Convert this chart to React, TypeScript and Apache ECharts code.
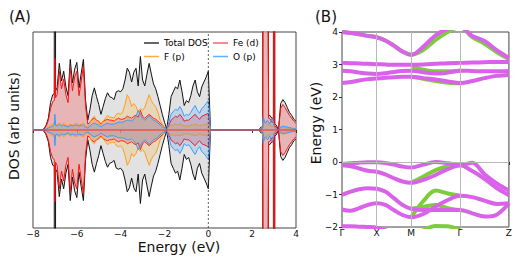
import React, { useEffect, useRef } from 'react';
import * as echarts from 'echarts';

// Energy grid (eV)
const energies = [
  -8.0, -7.9, -7.8, -7.7, -7.6, -7.5, -7.4, -7.3, -7.2, -7.1,
  -7.03, -7.0, -6.97,
  -6.9, -6.8, -6.7, -6.6, -6.5, -6.4, -6.3, -6.2, -6.1,
  -6.0, -5.9, -5.8, -5.7, -5.6, -5.5, -5.4, -5.3, -5.2, -5.1,
  -5.0, -4.9, -4.8, -4.7, -4.6, -4.5, -4.4, -4.3, -4.2, -4.1,
  -4.0, -3.9, -3.8, -3.7, -3.6, -3.5, -3.4, -3.3, -3.2, -3.1,
  -3.0, -2.9, -2.8, -2.7, -2.6, -2.5, -2.4, -2.3, -2.2, -2.1,
  -2.0, -1.9, -1.8, -1.7, -1.6, -1.5, -1.4, -1.3, -1.2, -1.1,
  -1.0, -0.9, -0.8, -0.7, -0.6, -0.5, -0.4, -0.3, -0.2, -0.1,
  0.0, 0.1, 0.2, 0.3, 0.4, 0.5, 0.6, 0.7, 0.8, 0.9,
  1.0, 1.1, 1.2, 1.3, 1.4, 1.5, 1.6, 1.7, 1.8, 1.9,
  2.0, 2.1, 2.2, 2.3, 2.4,
  2.48, 2.5, 2.6, 2.7, 2.75,
  2.8, 2.9, 2.97, 3.0, 3.03,
  3.1, 3.2, 3.3, 3.4, 3.5, 3.6, 3.7, 3.8, 3.9, 4.0,
];

const totalDos = [
  0, 0, 0, 0, 0, 0.1, 0.5, 1.2, 2.8, 3.6,
  3.7, 200, 4.0,
  4.3, 6.8, 5.0, 6.0, 4.4, 3.5, 7.2, 4.8, 6.2,
  6.9, 4.3, 5.8, 7.2, 3.0, 1.0, 2.1, 3.5, 4.3, 3.4,
  2.6, 1.6, 2.4, 3.2, 3.8, 3.4, 3.3, 3.1, 3.9, 4.0,
  3.9, 4.2, 5.1, 6.3, 5.9, 4.9, 5.9, 6.3, 4.5, 7.5,
  5.1, 4.5, 5.7, 6.8, 5.7, 4.7, 4.2, 3.4, 2.5, 1.6,
  0.8, 0.1, 1.6, 3.4, 3.9, 4.4, 4.2, 5.1, 3.9, 2.5,
  3.0, 2.8, 3.5, 4.5, 5.1, 3.9, 3.4, 4.4, 4.9, 5.4,
  6.0, 0, 0, 0, 0, 0, 0, 0, 0, 0,
  0, 0, 0, 0, 0, 0, 0, 0, 0, 0,
  0, 0, 0, 0, 0.3,
  0.3, 30, 30, 30, 1.4,
  1.5, 1.2, 1.2, 200, 0.6,
  0.5, 0, 2.7, 3.1, 2.8, 2.3, 1.8, 1.5, 1.1, 0.9,
];

const feD = [
  0, 0, 0, 0, 0, 0.1, 0.4, 1.0, 2.2, 2.9,
  3.0, 7.3, 3.3,
  3.6, 6.0, 4.2, 5.2, 3.6, 2.8, 6.4, 4.0, 5.4,
  6.0, 3.5, 5.0, 6.5, 2.4, 0.6, 0.8, 1.1, 1.2, 1.0,
  0.9, 0.6, 0.9, 1.0, 1.1, 1.0, 1.0, 0.9, 1.1, 1.2,
  1.1, 1.1, 1.2, 1.4, 1.3, 1.2, 1.4, 1.5, 1.3, 2.0,
  1.4, 1.2, 1.4, 1.6, 1.4, 1.2, 1.1, 0.9, 0.7, 0.5,
  0.3, 0.05, 0.5, 1.0, 1.2, 1.4, 1.3, 1.6, 1.3, 0.9,
  1.0, 1.0, 1.2, 1.4, 1.6, 1.3, 1.1, 1.4, 1.5, 1.6,
  1.7, 0, 0, 0, 0, 0, 0, 0, 0, 0,
  0, 0, 0, 0, 0, 0, 0, 0, 0, 0,
  0, 0, 0, 0, 0.1,
  0.2, 30, 30, 30, 1.2,
  1.2, 0.8, 0.8, 200, 0.4,
  0.3, 0, 2.2, 2.6, 2.3, 1.9, 1.5, 1.2, 0.9, 0.7,
];

const fP = [
  0, 0, 0, 0, 0, 0, 0.1, 0.3, 0.5, 0.6,
  0.7, 0.9, 0.6,
  0.5, 0.7, 0.5, 0.7, 0.5, 0.4, 0.6, 0.5, 0.6,
  0.7, 0.5, 0.6, 0.7, 0.5, 0.3, 0.8, 1.2, 1.4, 1.0,
  0.8, 0.5, 0.9, 1.2, 1.5, 1.3, 1.3, 1.2, 1.6, 1.7,
  1.6, 1.9, 2.6, 3.6, 3.2, 2.4, 2.7, 2.4, 1.8, 2.2,
  2.0, 2.3, 3.0, 3.6, 3.0, 2.6, 2.4, 1.8, 1.0, 0.6,
  0.2, 0.05, 0.3, 0.5, 0.5, 0.6, 0.5, 0.6, 0.5, 0.4,
  0.4, 0.4, 0.5, 0.5, 0.6, 0.5, 0.4, 0.5, 0.5, 0.6,
  0.6, 0, 0, 0, 0, 0, 0, 0, 0, 0,
  0, 0, 0, 0, 0, 0, 0, 0, 0, 0,
  0, 0, 0, 0, 0.2,
  0.3, 0.9, 0.7, 0.6, 0.55,
  0.5, 0.4, 0.35, 0.3, 0.25,
  0.1, 0, 0.2, 0.25, 0.2, 0.2, 0.15, 0.1, 0.1, 0.1,
];

const oP = [
  0, 0, 0, 0, 0, 0, 0.1, 0.2, 0.3, 0.4,
  0.5, 1.6, 0.5,
  0.4, 0.6, 0.4, 0.5, 0.4, 0.3, 0.5, 0.4, 0.5,
  0.5, 0.4, 0.5, 0.5, 0.3, 0.2, 0.4, 0.6, 0.7, 0.6,
  0.5, 0.3, 0.5, 0.6, 0.7, 0.6, 0.6, 0.6, 0.7, 0.8,
  0.8, 0.8, 0.9, 1.0, 1.0, 0.9, 1.1, 1.4, 2.0, 1.6,
  1.2, 1.0, 1.2, 1.5, 1.2, 1.0, 0.9, 0.7, 0.5, 0.3,
  0.2, 0.05, 0.8, 1.6, 1.9, 2.1, 2.0, 2.4, 2.0, 1.4,
  1.6, 1.5, 1.8, 2.2, 2.5, 2.0, 1.7, 2.2, 2.4, 2.7,
  3.0, 0, 0, 0, 0, 0, 0, 0, 0, 0,
  0, 0, 0, 0, 0, 0, 0, 0, 0, 0,
  0, 0, 0, 0, 0.2,
  0.3, 1.3, 0.7, 1.0, 0.8,
  0.6, 1.2, 0.8, 0.4, 0.3,
  0.1, 0, 0.3, 0.4, 0.35, 0.3, 0.25, 0.2, 0.15, 0.1,
];

// Band structure
const kPath = [0, 0.125, 0.25, 0.375, 0.5, 0.625, 0.75, 0.875, 1.0, 1.177, 1.354, 1.53, 1.707, 1.884, 2.061, 2.237, 2.414];
const kSegMG = [1.0, 1.177, 1.354, 1.53, 1.707];
const kTicks = [0, 0.5, 1.0, 1.707, 2.414];
const kLabels = ['Γ', 'X', 'M', 'Γ', 'Z'];

const cb4 = [4.0, 3.97, 3.93, 3.88, 3.84, 3.74, 3.58, 3.4, 3.3, 3.55, 3.9, 4.1, 4.15, 3.88, 3.72, 3.44, 3.2];
const cb3 = [3.05, 3.04, 3.03, 3.02, 3.01, 3.0, 2.99, 2.99, 2.99, 3.0, 3.02, 3.04, 3.05, 3.06, 3.07, 3.08, 3.08];
const cb2 = [2.81, 2.79, 2.75, 2.72, 2.71, 2.73, 2.77, 2.8, 2.81, 2.76, 2.72, 2.75, 2.81, 2.8, 2.79, 2.79, 2.8];
const cb1 = [2.43, 2.46, 2.51, 2.55, 2.57, 2.59, 2.61, 2.62, 2.62, 2.58, 2.54, 2.48, 2.43, 2.49, 2.58, 2.65, 2.68];
const vb1 = [-0.06, -0.04, -0.02, -0.01, -0.01, -0.03, -0.08, -0.14, -0.17, -0.08, 0.0, -0.04, -0.1, -0.02, -0.38, -0.66, -0.88];
const vb2 = [-0.1, -0.13, -0.2, -0.27, -0.3, -0.38, -0.5, -0.6, -0.64, -0.55, -0.4, -0.22, -0.1, -0.28, -0.52, -0.8, -1.02];
const vb3 = [-1.01, -0.91, -0.84, -0.81, -0.82, -0.91, -1.11, -1.32, -1.44, -1.48, -1.48, -1.48, -1.48, -1.58, -1.68, -1.62, -1.27];
const vb4 = [-1.46, -1.5, -1.42, -1.32, -1.27, -1.32, -1.48, -1.63, -1.7, -1.6, -1.37, -1.17, -1.04, -1.08, -1.19, -1.29, -1.27];
const vb5 = [-1.98, -1.98, -1.99, -2.0, -2.02, -2.1, -2.2, -2.3, -2.35, -2.3, -2.2, -2.15, -2.2, -2.3, -2.35, -2.3, -2.25];

const gCb4 = [4.0, 3.97, 3.93, 3.88, 3.84, 3.74, 3.58, 3.4, 3.3, 3.45, 3.76, 4.0, 4.15, 3.84, 3.64, 3.38, 3.16];
const gMG1 = [2.95, 2.84, 2.79, 2.79, 2.81];
const gMG2 = [2.62, 2.56, 2.49, 2.44, 2.42];
const gMG3 = [-0.64, -0.45, -0.25, -0.13, -0.1];
const gMG4 = [-1.7, -1.2, -0.88, -0.97, -1.04];
const gMG5 = [-1.44, -1.38, -1.32, -1.42, -1.48];
const gMG6 = [-2.3, -2.1, -1.97, -1.98, -2.1];

const FONT = 'DejaVu Sans';
const minus = (v: number) => String(v).replace('-', '\u2212');

export default function App() {
  const ref = useRef<HTMLDivElement>(null);
  useEffect(() => {
    const chart = echarts.init(ref.current!, null, { renderer: 'svg' });

    const dosSeries = (name: string, vals: number[], sign: number, line: string, fill: string, z: number) => ({
      type: 'line',
      name,
      xAxisIndex: 0,
      yAxisIndex: 0,
      data: energies.map((e, i) => [e, sign * vals[i]]),
      symbol: 'none',
      silent: true,
      z,
      lineStyle: { color: line, width: 1 },
      itemStyle: { color: line },
      areaStyle: { color: fill },
    });

    const bandSeries = (name: string, ks: number[], vals: number[], color: string, z: number) => ({
      type: 'line',
      name,
      xAxisIndex: 1,
      yAxisIndex: 1,
      data: ks.map((k, i) => [k, vals[i]]),
      symbol: 'none',
      smooth: 0.35,
      silent: true,
      z,
      lineStyle: { color, width: 4 },
      itemStyle: { color },
    });

    const MAG = '#d862e8';
    const GRN = '#7ccc3e';

    const series: any[] = [
      dosSeries('Total DOS', totalDos, 1, '#111', '#d6d6d6', 2),
      dosSeries('Total DOS', totalDos, -1, '#111', '#d6d6d6', 2),
      dosSeries('Fe (d)', feD, 1, '#ff1010', 'rgba(255,0,0,0.28)', 3),
      dosSeries('Fe (d)', feD, -1, '#ff1010', 'rgba(255,0,0,0.28)', 3),
      dosSeries('F (p)', fP, 1, '#ff9d1a', 'rgba(255,160,0,0.25)', 4),
      dosSeries('F (p)', fP, -1, '#ff9d1a', 'rgba(255,160,0,0.25)', 4),
      dosSeries('O (p)', oP, 1, '#3a9cff', 'rgba(30,144,255,0.25)', 5),
      dosSeries('O (p)', oP, -1, '#3a9cff', 'rgba(30,144,255,0.25)', 5),
      {
        type: 'line', name: 'fermi', xAxisIndex: 0, yAxisIndex: 0,
        data: [[0, -10], [0, 10]], symbol: 'none', silent: true, z: 9,
        lineStyle: { color: '#333', width: 0.8, type: [2, 2] },
      },
      {
        type: 'line', name: 'zero', xAxisIndex: 0, yAxisIndex: 0,
        data: [[-8, 0], [4, 0]], symbol: 'none', silent: true, z: 10,
        lineStyle: { color: 'rgba(255,20,20,0.85)', width: 1 },
      },
      {
        type: 'line',
        name: 'bandGrid',
        xAxisIndex: 1,
        yAxisIndex: 1,
        data: [[0, 0]],
        symbol: 'none',
        lineStyle: { width: 0 },
        z: 1,
        silent: true,
        markLine: {
          symbol: 'none',
          silent: true,
          label: { show: false },
          lineStyle: { type: 'solid', color: '#b8b8b8', width: 1 },
          data: [{ xAxis: 0.5 }, { xAxis: 1.0 }, { xAxis: 1.707 }, { yAxis: 0 }],
        },
      },
      bandSeries('g1', kPath, gCb4, GRN, 2),
      bandSeries('g2', kSegMG, gMG1, GRN, 2),
      bandSeries('g3', kSegMG, gMG2, GRN, 2),
      bandSeries('g4', kSegMG, gMG3, GRN, 2),
      bandSeries('g5', kSegMG, gMG4, GRN, 2),
      bandSeries('g6', kSegMG, gMG5, GRN, 2),
      bandSeries('g7', kSegMG, gMG6, GRN, 2),
      bandSeries('c4', kPath, cb4, MAG, 3),
      bandSeries('c3', kPath, cb3, MAG, 3),
      bandSeries('c2', kPath, cb2, MAG, 3),
      bandSeries('c1', kPath, cb1, MAG, 3),
      bandSeries('v1', kPath, vb1, MAG, 3),
      bandSeries('v2', kPath, vb2, MAG, 3),
      bandSeries('v3', kPath, vb3, MAG, 3),
      bandSeries('v4', kPath, vb4, MAG, 3),
      bandSeries('v5', kPath, vb5, MAG, 3),
    ];

    const legendCommon = {
      orient: 'vertical',
      top: 37.5,
      padding: 0,
      itemWidth: 15,
      itemHeight: 1.5,
      itemGap: 2.5,
      icon: 'rect',
      selectedMode: false,
      textStyle: { fontSize: 9, fontFamily: FONT, color: '#000', lineHeight: 11 },
    };

    chart.setOption({
      animation: false,
      backgroundColor: '#fff',
      textStyle: { fontFamily: FONT },
      grid: [
        { left: 33, top: 32, width: 263, height: 196, show: true, borderColor: '#444', borderWidth: 1, backgroundColor: 'transparent' },
        { left: 342, top: 32, width: 167, height: 195, show: true, borderColor: '#444', borderWidth: 1, backgroundColor: 'transparent' },
      ],
      xAxis: [
        {
          type: 'value', gridIndex: 0, min: -8, max: 4, interval: 2,
          axisLine: { show: false },
          axisTick: { show: true, length: 3, lineStyle: { color: '#333' } },
          axisLabel: { fontSize: 9, fontFamily: FONT, color: '#111', margin: 1, formatter: (v: number) => minus(v) },
          splitLine: { show: false },
        },
        {
          type: 'value', gridIndex: 1, min: 0, max: 2.414,
          axisLine: { show: false },
          axisTick: { show: true, length: 3, lineStyle: { color: '#333' }, customValues: kTicks },
          axisLabel: {
            fontSize: 9, fontFamily: FONT, color: '#111', margin: 1,
            customValues: kTicks,
            showMinLabel: true, showMaxLabel: true,
            formatter: (v: number) => {
              let best = 0;
              kTicks.forEach((t, i) => { if (Math.abs(t - v) < Math.abs(kTicks[best] - v)) best = i; });
              return kLabels[best];
            },
          },
          splitLine: { show: false },
        },
      ],
      yAxis: [
        {
          type: 'value', gridIndex: 0, min: -10, max: 10,
          axisLine: { show: false }, axisTick: { show: false }, axisLabel: { show: false }, splitLine: { show: false },
        },
        {
          type: 'value', gridIndex: 1, min: -2, max: 4, interval: 1,
          axisLine: { show: false },
          axisTick: { show: true, length: 3, lineStyle: { color: '#333' } },
          axisLabel: { fontSize: 9, fontFamily: FONT, color: '#111', margin: 4, formatter: (v: number) => minus(v) },
          splitLine: { show: false },
        },
      ],
      legend: [
        {
          ...legendCommon,
          left: 144,
          data: [
            { name: 'Total DOS', itemStyle: { color: '#333' } },
            { name: 'F (p)', itemStyle: { color: '#ffae45' } },
          ],
        },
        {
          ...legendCommon,
          left: 213,
          data: [
            { name: 'Fe (d)', itemStyle: { color: '#f26a6a' } },
            { name: 'O (p)', itemStyle: { color: '#62b0ff' } },
          ],
        },
      ],
      graphic: [
        { type: 'text', left: 9, top: 9, style: { text: '(A)', fontSize: 15, fontFamily: FONT, fill: '#111' } },
        { type: 'text', left: 315, top: 9, style: { text: '(B)', fontSize: 15, fontFamily: FONT, fill: '#111' } },
        { type: 'text', x: 179, y: 247, style: { text: 'Energy (eV)', fontSize: 14, fontFamily: FONT, fill: '#111', align: 'center', verticalAlign: 'middle' } },
        { type: 'text', x: 14, y: 126, rotation: Math.PI / 2, style: { text: 'DOS (arb units)', fontSize: 14, fontFamily: FONT, fill: '#111', align: 'center', verticalAlign: 'middle' } },
        { type: 'text', x: 316, y: 123, rotation: Math.PI / 2, style: { text: 'Energy (eV)', fontSize: 14, fontFamily: FONT, fill: '#111', align: 'center', verticalAlign: 'middle' } },
      ],
      series,
    });
    return () => chart.dispose();
  }, []);
  return <div ref={ref} style={{ position: 'fixed', left: 0, top: 0, width: 515, height: 265 }} />;
}
